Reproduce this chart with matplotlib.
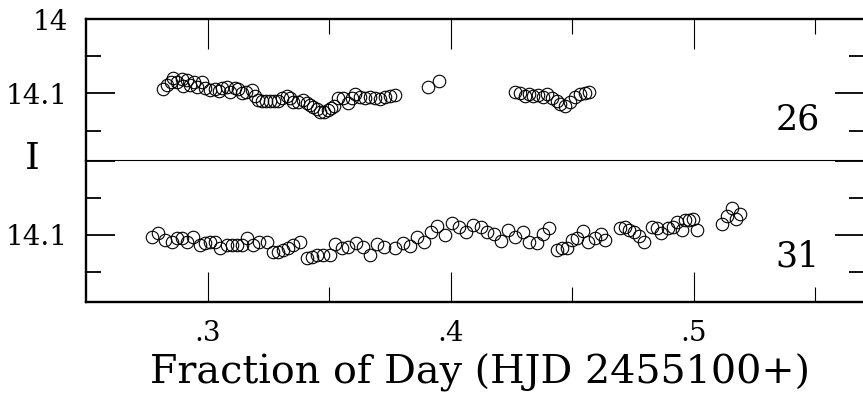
import matplotlib
matplotlib.use('Agg')
import matplotlib.pyplot as plt
from matplotlib.ticker import FixedLocator, FixedFormatter

# ---- data (fraction of day, I magnitude) ----
top_x = [0.2817, 0.2833, 0.2850, 0.2858, 0.2874, 0.2895, 0.2899, 0.2915, 0.2928, 0.2944,
         0.2956, 0.2977, 0.2989, 0.3010, 0.3030, 0.3047, 0.3059, 0.3080, 0.3092, 0.3113,
         0.3125, 0.3141, 0.3158, 0.3183, 0.3195, 0.3207, 0.3224, 0.3240, 0.3257, 0.3273,
         0.3290, 0.3306, 0.3327, 0.3339, 0.3351, 0.3372, 0.3392, 0.3409, 0.3421, 0.3433,
         0.3450, 0.3462, 0.3479, 0.3495, 0.3507, 0.3520, 0.3536, 0.3557, 0.3577, 0.3594,
         0.3606, 0.3627, 0.3647, 0.3668, 0.3688, 0.3709, 0.3729, 0.3750, 0.3771,
         0.3906, 0.3952,
         0.4264, 0.4285, 0.4305, 0.4322, 0.4338, 0.4359, 0.4379, 0.4396, 0.4416, 0.4437,
         0.4449, 0.4470, 0.4490, 0.4511, 0.4531, 0.4552, 0.4568]
top_mag = [14.0940, 14.0886, 14.0846, 14.0792, 14.0846, 14.0805, 14.0899, 14.0819, 14.0886, 14.0846,
           14.0913, 14.0846, 14.0926, 14.0953, 14.0940, 14.0966, 14.0926, 14.0913, 14.0980, 14.0926,
           14.0940, 14.0993, 14.0980, 14.0953, 14.1034, 14.1087, 14.1101, 14.1101, 14.1101, 14.1101,
           14.1101, 14.1060, 14.1034, 14.1060, 14.1114, 14.1114, 14.1087, 14.1128, 14.1154, 14.1181,
           14.1208, 14.1248, 14.1248, 14.1221, 14.1195, 14.1168, 14.1060, 14.1060, 14.1128, 14.1060,
           14.1007, 14.1047, 14.1060, 14.1047, 14.1060, 14.1074, 14.1047, 14.1034, 14.1020,
           14.0913, 14.0832,
           14.0980, 14.0993, 14.1034, 14.1007, 14.1034, 14.1020, 14.1047, 14.1007, 14.1060, 14.1101,
           14.1141, 14.1168, 14.1114, 14.1047, 14.1007, 14.0993, 14.0980]

bot_x = [0.2771, 0.2796, 0.2825, 0.2854, 0.2874, 0.2895, 0.2915, 0.2940, 0.2969, 0.2989,
         0.3010, 0.3030, 0.3051, 0.3080, 0.3100, 0.3121, 0.3141, 0.3162, 0.3187, 0.3211,
         0.3244, 0.3269, 0.3290, 0.3310, 0.3331, 0.3351, 0.3380, 0.3409, 0.3429, 0.3450,
         0.3475, 0.3503, 0.3524, 0.3553, 0.3577, 0.3610, 0.3639, 0.3668, 0.3697, 0.3725,
         0.3771, 0.3804, 0.3832, 0.3861, 0.3890, 0.3919, 0.3943, 0.3976, 0.4005, 0.4034,
         0.4063, 0.4091, 0.4124, 0.4149, 0.4178, 0.4206, 0.4235, 0.4264, 0.4297, 0.4322,
         0.4355, 0.4379, 0.4404, 0.4437, 0.4457, 0.4478, 0.4498, 0.4519, 0.4544, 0.4564,
         0.4593, 0.4618, 0.4634, 0.4696, 0.4716, 0.4733, 0.4753, 0.4774, 0.4795, 0.4827,
         0.4848, 0.4864, 0.4893, 0.4914, 0.4930, 0.4951, 0.4963, 0.4980, 0.4996, 0.5012,
         0.5115, 0.5136, 0.5156, 0.5173, 0.5189]
bot_mag = [14.1027, 14.0973, 14.1067, 14.1094, 14.1040, 14.1040, 14.1094, 14.1027, 14.1134, 14.1107,
           14.1094, 14.1094, 14.1175, 14.1134, 14.1134, 14.1134, 14.1134, 14.1040, 14.1134, 14.1094,
           14.1094, 14.1228, 14.1228, 14.1201, 14.1175, 14.1134, 14.1094, 14.1309, 14.1295, 14.1268,
           14.1268, 14.1268, 14.1121, 14.1175, 14.1161, 14.1107, 14.1161, 14.1268, 14.1121, 14.1161,
           14.1175, 14.1107, 14.1148, 14.1027, 14.1094, 14.0960, 14.0879, 14.1000, 14.0839, 14.0893,
           14.0960, 14.0866, 14.0893, 14.0960, 14.0987, 14.1081, 14.0933, 14.1027, 14.0960, 14.1094,
           14.1107, 14.0987, 14.0906, 14.1201, 14.1175, 14.1175, 14.1067, 14.1040, 14.0946, 14.1094,
           14.1040, 14.0987, 14.1067, 14.0906, 14.0893, 14.0933, 14.0960, 14.1013, 14.1094, 14.0893,
           14.0906, 14.0973, 14.0906, 14.0893, 14.0826, 14.0933, 14.0799, 14.0799, 14.0785, 14.0933,
           14.0852, 14.0745, 14.0638, 14.0785, 14.0718]

panel_labels = ['26', '31']
x_ticks = [0.3, 0.4, 0.5]
x_tick_labels = ['.3', '.4', '.5']
x_minor = [0.35, 0.45, 0.55]
y_ticks = [14.0, 14.1]
y_minor = [14.05, 14.15]
top_y_labels = ['14', '14.1']
bot_y_labels = ['', '14.1']
x_label = 'Fraction of Day (HJD 2455100+)'
y_label = 'I'
x_range = (0.25, 0.57)
y_range = (14.19, 14.0)

plt.rcParams['font.family'] = ['DejaVu Serif']

W, H = 863, 393
fig = plt.figure(figsize=(W / 100, H / 100), dpi=100)


def px_axes(l, t, r, b):
    return fig.add_axes([l / W, 1 - b / H, (r - l) / W, (b - t) / H])


ax1 = px_axes(86, 19, 864, 160.5)
ax2 = px_axes(86, 160.5, 864, 302)

for ax, xs, ys, lab, ylabs, is_top in [(ax1, top_x, top_mag, panel_labels[0], top_y_labels, True),
                                       (ax2, bot_x, bot_mag, panel_labels[1], bot_y_labels, False)]:
    ax.plot(xs, ys, linestyle='none', marker='o', markersize=9, markerfacecolor='none',
            markeredgecolor='black', markeredgewidth=0.8)
    ax.set_xlim(*x_range)
    ax.set_ylim(*y_range)
    ax.xaxis.set_major_locator(FixedLocator(x_ticks))
    ax.xaxis.set_minor_locator(FixedLocator(x_minor))
    ax.yaxis.set_major_locator(FixedLocator(y_ticks))
    ax.yaxis.set_minor_locator(FixedLocator(y_minor))
    ax.yaxis.set_major_formatter(FixedFormatter(ylabs))
    ax.tick_params(axis='both', which='both', direction='in', colors='black')
    ax.tick_params(axis='x', which='major', length=21.5, width=0.8)
    ax.tick_params(axis='x', which='minor', length=10.8, width=0.8)
    ax.tick_params(axis='y', which='major', length=21, width=1.3, left=True, right=True,
                   labelsize=20, pad=13)
    ax.tick_params(axis='y', which='minor', length=10.5, width=1.3, left=True, right=True)
    if is_top:
        ax.tick_params(axis='x', which='both', top=True, bottom=False, labelbottom=False)
        ax.spines['bottom'].set_visible(False)
        ax.spines['top'].set_linewidth(1.7)
    else:
        ax.tick_params(axis='x', which='both', top=False, bottom=True, labelbottom=True,
                       labelsize=20, pad=13)
        ax.xaxis.set_major_formatter(FixedFormatter(x_tick_labels))
        ax.spines['top'].set_linewidth(0.8)
        ax.spines['bottom'].set_linewidth(1.7)
    ax.spines['left'].set_linewidth(1.7)
    ax.spines['right'].set_linewidth(1.7)
    ax.text(0.9145, 0.29 if is_top else 0.325, lab, transform=ax.transAxes,
            ha='center', va='center', fontsize=25)

fig.text(32 / W, 1 - 159 / H, y_label, ha='center', va='center', fontsize=27)
fig.text(480 / W, 1 - 384 / H, x_label, ha='center', va='baseline', fontsize=28.5)

fig.savefig('out.png', dpi=100)
